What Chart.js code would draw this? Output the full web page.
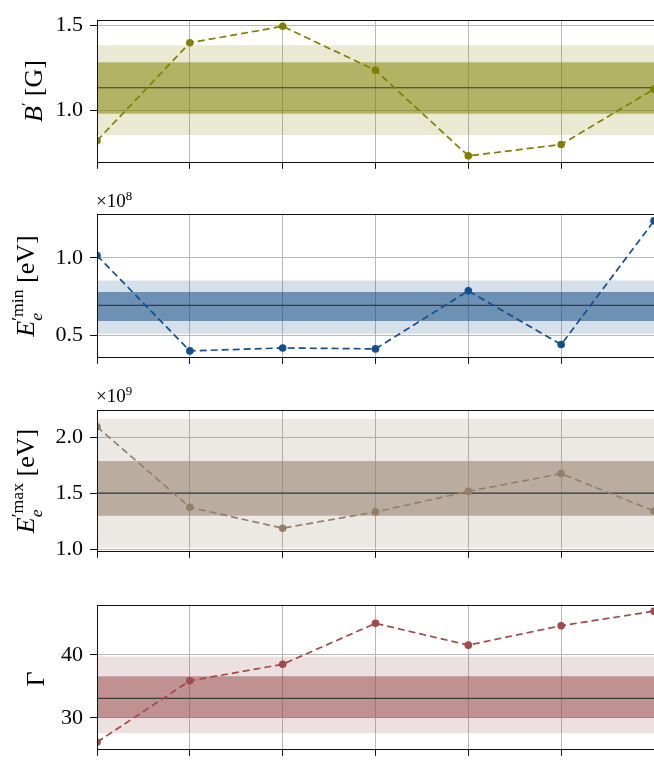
<!DOCTYPE html>
<html lang="en">
<head>
    <meta charset="UTF-8">
    <title>Fitted parameters per epoch</title>
    <script src="https://cdn.jsdelivr.net/npm/chart.js@4"></script>
    <style>
        html, body { margin: 0; padding: 0; background: #fff; overflow: hidden; }
        body { width: 654px; height: 763px; position: relative; font-family: "Liberation Serif", "DejaVu Serif", serif; color: #000; }
        .panel { position: absolute; left: 0; }
        .ylab { position: absolute; white-space: nowrap; font-size: 26px; transform: translate(-50%, -50%) rotate(-90deg); line-height: 1; }
        .ss { display: inline-block; vertical-align: -0.45em; font-size: 0.68em; line-height: 1.05; text-align: left; }
        .ss span { display: block; }
        .mult { position: absolute; left: 96px; font-size: 19px; line-height: 1; }
        .mult sup { font-size: 0.68em; }
    </style>
</head>
<body>
    <div class="panel" style="top:0px"><canvas id="c1" width="660" height="182"></canvas></div>
    <div class="panel" style="top:194px"><canvas id="c2" width="660" height="183"></canvas></div>
    <div class="panel" style="top:390px"><canvas id="c3" width="660" height="181"></canvas></div>
    <div class="panel" style="top:585px"><canvas id="c4" width="660" height="184"></canvas></div>

    <div class="ylab" style="left:33px; top:91px"><i>B</i><sup style="font-size:0.6em">′</sup> [G]</div>
    <div class="ylab" style="left:27px; top:286px"><i>E</i><span class="ss"><span>′min</span><span><i>e</i></span></span> [eV]</div>
    <div class="ylab" style="left:27px; top:481px"><i>E</i><span class="ss"><span>′max</span><span><i>e</i></span></span> [eV]</div>
    <div class="ylab" style="left:36px; top:679px">Γ</div>

    <div class="mult" style="top:190px">×10<sup>8</sup></div>
    <div class="mult" style="top:385px">×10<sup>9</sup></div>

    <script>
        // x positions of the 7 points (no labels on the x axis)
        const xIndex = [0, 1, 2, 3, 4, 5, 6];

        // B' [G]
        const bField = [0.822, 1.399, 1.496, 1.237, 0.733, 0.800, 1.126];
        const bMean = 1.134;
        const bSigma1 = [0.981, 1.285];
        const bSigma2 = [0.856, 1.384];
        const bRange = [0.698, 1.532];
        const bTicks = [1.0, 1.5];

        // E'min [eV] in units of 1e8
        const eMin = [1.015, 0.400, 0.419, 0.413, 0.787, 0.441, 1.238];
        const eMinMean = 0.694;
        const eMinSigma1 = [0.592, 0.779];
        const eMinSigma2 = [0.511, 0.853];
        const eMinRange = [0.362, 1.281];
        const eMinTicks = [0.5, 1.0];

        // E'max [eV] in units of 1e9
        const eMax = [2.098, 1.375, 1.188, 1.334, 1.518, 1.678, 1.342];
        const eMaxMean = 1.503;
        const eMaxSigma1 = [1.30, 1.79];
        const eMaxSigma2 = [1.012, 2.17];
        const eMaxRange = [0.985, 2.247];
        const eMaxTicks = [1.0, 1.5, 2.0];

        // Gamma
        const gamma = [26.14, 35.87, 38.49, 44.97, 41.52, 44.60, 46.9];
        const gammaMean = 33.09;
        const gammaSigma1 = [30.0, 36.6];
        const gammaSigma2 = [27.55, 39.7];
        const gammaRange = [25.09, 47.85];
        const gammaTicks = [30, 40];

        const frameBox = {
            id: 'frameBox',
            afterDatasetsDraw(chart) {
                const a = chart.chartArea;
                const ctx = chart.ctx;
                ctx.save();
                ctx.strokeStyle = '#111';
                ctx.lineWidth = 1;
                ctx.strokeRect(Math.round(a.left) + 0.5, Math.round(a.top) + 0.5, Math.round(a.right - a.left), Math.round(a.bottom - a.top));
                ctx.restore();
            }
        };

        function flat(v) {
            return [{ x: xIndex[0], y: v }, { x: xIndex[xIndex.length - 1], y: v }];
        }

        function makePanel(id, values, mean, s1, s2, range, ticks, color, rgb, decimals) {
            const pts = xIndex.map((x, i) => ({ x: x, y: values[i] }));
            const band = (a) => 'rgba(' + rgb + ',' + a + ')';
            new Chart(document.getElementById(id), {
                type: 'line',
                data: {
                    datasets: [
                        { data: pts, borderColor: color, backgroundColor: color, borderWidth: 1.7,
                          borderDash: [7, 4], pointRadius: 3.8, pointBorderWidth: 0, fill: false, order: 0 },
                        { data: flat(mean), borderColor: '#3a3a3a', borderWidth: 1.2, pointRadius: 0, fill: false, order: 1 },
                        { data: flat(s1[1]), borderWidth: 0, pointRadius: 0, fill: 3, backgroundColor: band(0.52), order: 2 },
                        { data: flat(s1[0]), borderWidth: 0, pointRadius: 0, fill: false, order: 3 },
                        { data: flat(s2[1]), borderWidth: 0, pointRadius: 0, fill: 5, backgroundColor: band(0.17), order: 4 },
                        { data: flat(s2[0]), borderWidth: 0, pointRadius: 0, fill: false, order: 5 }
                    ]
                },
                options: {
                    responsive: false,
                    animation: false,
                    events: [],
                    layout: { padding: { top: 10, right: 6, left: 0, bottom: 0 } },
                    plugins: { legend: { display: false }, tooltip: { enabled: false } },
                    scales: {
                        x: {
                            type: 'linear', min: 0, max: 6,
                            afterBuildTicks: (s) => { s.ticks = xIndex.map(v => ({ value: v })); },
                            afterFit: (s) => { s.height = 12; },
                            ticks: { callback: () => '', padding: 0 },
                            grid: { color: '#b8b8b8', lineWidth: 1, tickLength: 7, tickColor: '#111' },
                            border: { display: false }
                        },
                        y: {
                            min: range[0], max: range[1],
                            afterBuildTicks: (s) => { s.ticks = ticks.map(v => ({ value: v })); },
                            afterFit: (s) => { s.width = 97; },
                            ticks: {
                                color: '#000', padding: 7,
                                font: { family: '"Liberation Serif", serif', size: 22 },
                                callback: (v) => Number(v).toFixed(decimals)
                            },
                            grid: { color: '#b8b8b8', lineWidth: 1, tickLength: 7, tickColor: '#111' },
                            border: { display: false }
                        }
                    }
                },
                plugins: [frameBox]
            });
        }

        makePanel('c1', bField, bMean, bSigma1, bSigma2, bRange, bTicks, '#808000', '128,128,0', 1);
        makePanel('c2', eMin, eMinMean, eMinSigma1, eMinSigma2, eMinRange, eMinTicks, '#124f8c', '14,72,130', 1);
        makePanel('c3', eMax, eMaxMean, eMaxSigma1, eMaxSigma2, eMaxRange, eMaxTicks, '#94806a', '140,118,97', 1);
        makePanel('c4', gamma, gammaMean, gammaSigma1, gammaSigma2, gammaRange, gammaTicks, '#a24a4a', '150,72,72', 0);
    </script>
</body>
</html>
